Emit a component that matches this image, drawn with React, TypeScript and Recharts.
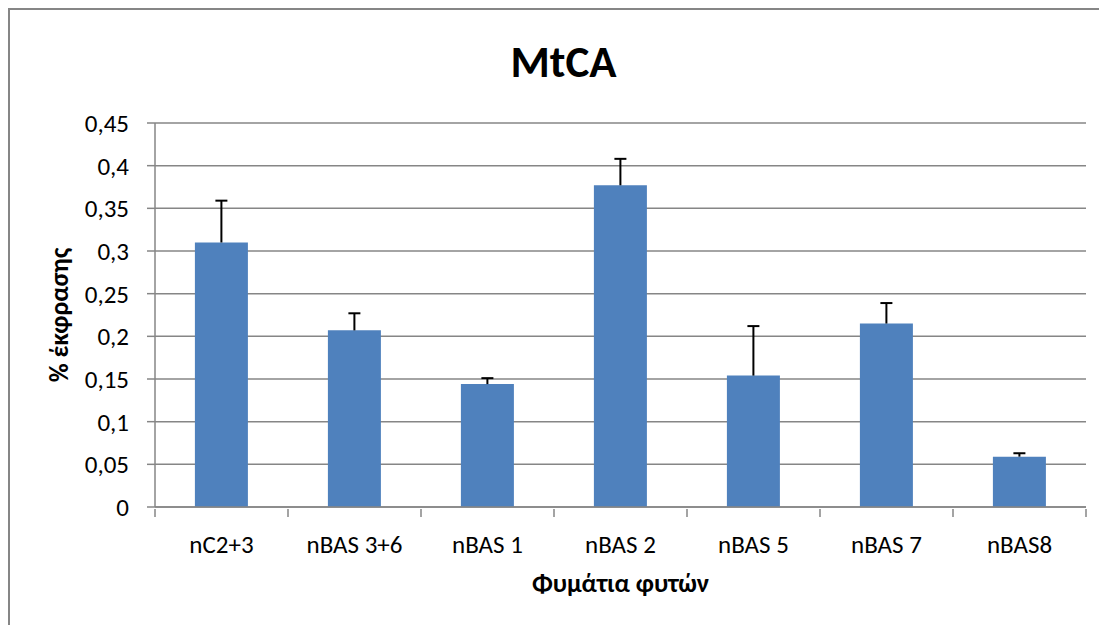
import React from "react";
import { BarChart, Bar, XAxis, YAxis, CartesianGrid } from "recharts";

const categories = ["nC2+3", "nBAS 3+6", "nBAS 1", "nBAS 2", "nBAS 5", "nBAS 7", "nBAS8"];
const means = [0.31, 0.207, 0.144, 0.377, 0.154, 0.215, 0.059];
const errors = [0.049, 0.02, 0.007, 0.031, 0.058, 0.024, 0.004];
const yTicks = [0, 0.05, 0.1, 0.15, 0.2, 0.25, 0.3, 0.35, 0.4, 0.45];

const FONT = "Carlito, Lato, 'Open Sans', sans-serif";
const BAR = "#4F81BD";
const GRID = "#868686";

const data = categories.map((name, i) => ({ name, value: means[i], err: errors[i] }));

// upward-only error bar drawn on top of the stacked value
function ErrorShape(props: { x?: number; y?: number; width?: number; height?: number }) {
    const { x = 0, y = 0, width = 0, height = 0 } = props;
    const cx = x + width / 2;
    return (
        <g>
            <line x1={cx} y1={y + height} x2={cx} y2={y} stroke="#000" strokeWidth={2} />
            <line x1={cx - 6} y1={y} x2={cx + 6} y2={y} stroke="#000" strokeWidth={2} />
        </g>
    );
}

function CatTick(props: any) {
    const { x, y, payload, index, visibleTicksCount } = props;
    const half = payload?.offset ?? 0;
    const last = index === (visibleTicksCount ?? categories.length) - 1;
    return (
        <g>
            <line x1={x - half} y1={y} x2={x - half} y2={y + 8} stroke={GRID} strokeWidth={1.5} />
            {last && <line x1={x + half} y1={y} x2={x + half} y2={y + 8} stroke={GRID} strokeWidth={1.5} />}
            <text x={x} y={y + 44} textAnchor="middle" fontSize={25} fontFamily={FONT} fill="#000">
                {payload.value}
            </text>
        </g>
    );
}

function XTitle(props: any) {
    const vb = props.viewBox || {};
    return (
        <text x={vb.x + vb.width / 2} y={vb.y + 85} textAnchor="middle" fontSize={26} fontWeight="bold" fontFamily={FONT} fill="#000">
            Φυμάτια φυτών
        </text>
    );
}

function YTitle(props: any) {
    const vb = props.viewBox || {};
    const cx = vb.x + 58;
    const cy = vb.y + vb.height / 2;
    return (
        <text x={cx} y={cy} transform={`rotate(-90 ${cx} ${cy})`} textAnchor="middle" fontSize={26} fontWeight="bold" fontFamily={FONT} fill="#000">
            % έκφρασης
        </text>
    );
}

export default function App() {
    return (
        <div style={{ position: "relative", width: 1097, height: 615, borderTop: `2px solid ${GRID}`, borderLeft: `2px solid ${GRID}`, background: "#fff" }}>
            <div style={{ position: "absolute", left: 0, top: 29, width: 1097, paddingLeft: 10, boxSizing: "border-box", textAlign: "center", fontFamily: FONT, fontWeight: "bold", fontSize: 45, lineHeight: "45px" }}>
                MtCA
            </div>
            <BarChart width={1097} height={615} data={data} margin={{ top: 113, right: 21, bottom: 0, left: 0 }} barCategoryGap="30%">
                <CartesianGrid vertical={false} stroke={GRID} strokeWidth={1.5} />
                <XAxis
                    dataKey="name"
                    height={118}
                    axisLine={{ stroke: GRID, strokeWidth: 1.5 }}
                    tickLine={false}
                    tickSize={0}
                    tick={<CatTick />}
                    interval={0}
                    label={<XTitle />}
                />
                <YAxis
                    width={145}
                    domain={[0, 0.45]}
                    ticks={yTicks}
                    interval={0}
                    axisLine={{ stroke: GRID, strokeWidth: 1.5 }}
                    tickLine={{ stroke: GRID, strokeWidth: 1.5 }}
                    tickSize={8}
                    tickMargin={18}
                    tick={{ fontSize: 25, fontFamily: FONT, fill: "#000" }}
                    tickFormatter={(v: number) => String(v).replace(".", ",")}
                    label={<YTitle />}
                />
                <Bar dataKey="value" stackId="a" fill={BAR} isAnimationActive={false} />
                <Bar dataKey="err" stackId="a" shape={<ErrorShape />} isAnimationActive={false} />
            </BarChart>
        </div>
    );
}
